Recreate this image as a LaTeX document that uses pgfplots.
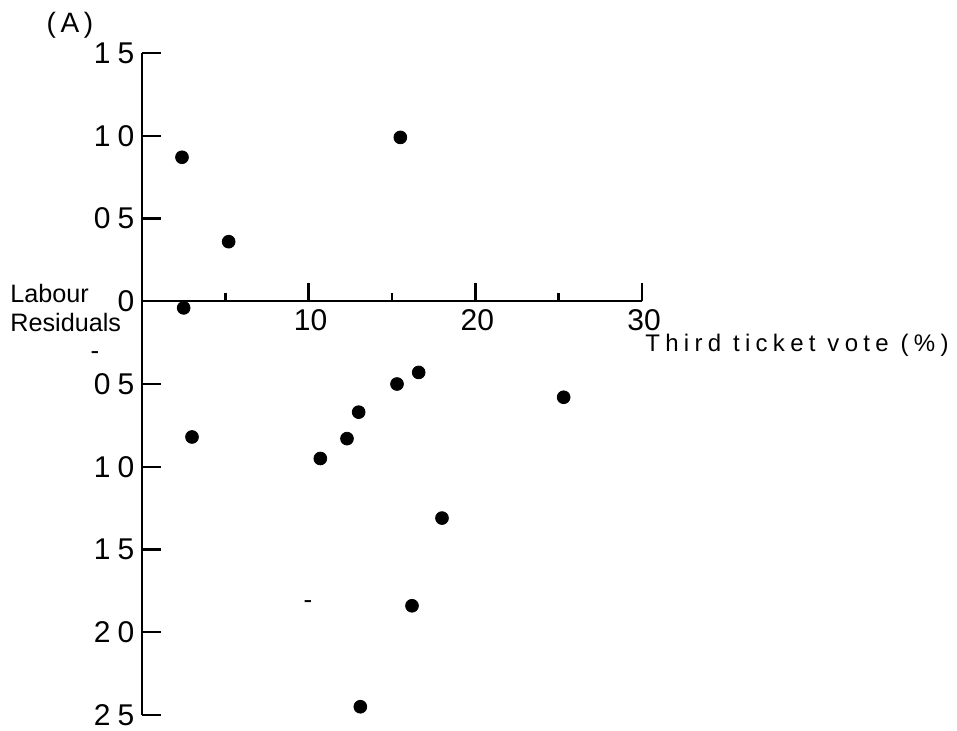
\documentclass[border=0pt]{standalone}
\usepackage{fontspec}
\setmainfont{Liberation Sans}
\usepackage{pgfplots}
\pgfplotsset{compat=1.18}
\begin{document}
\begin{tikzpicture}
\useasboundingbox (-71pt,-7.5pt) rectangle (407.5pt,357.5pt);
\begin{axis}[
  at={(0,0)}, anchor=south west, scale only axis,
  width=250pt, height=331pt,
  xmin=0, xmax=30, ymin=-2.5, ymax=1.5,
  axis x line=middle, axis y line=left,
  axis line style={-, line width=1.2pt},
  xtick={10,20,30}, xticklabels={10,20,30},
  ytick={1.5,1,0.5,0,-0.5,-1,-1.5,-2,-2.5},
  yticklabels={1\hspace{3.5pt}5,1\hspace{3.5pt}0,0\hspace{3.5pt}5,0,0\hspace{3.5pt}5,1\hspace{3.5pt}0,1\hspace{3.5pt}5,2\hspace{3.5pt}0,2\hspace{3.5pt}5},
  tick style={draw=none},
  xticklabel style={font=\fontsize{15}{15}\selectfont, anchor=north, inner sep=2pt, xshift=1pt},
  yticklabel style={font=\fontsize{15}{15}\selectfont, anchor=east, inner sep=1.5pt},
  clip=false,
]
\addplot[only marks, mark=*, mark size=3.2pt, black] coordinates {
  (2.4,0.87) (15.5,0.99) (5.2,0.36) (2.5,-0.04) (3.0,-0.82)
  (10.7,-0.95) (12.3,-0.83) (13.0,-0.67) (15.3,-0.50) (16.6,-0.43)
  (25.3,-0.58) (18.0,-1.31) (16.2,-1.84) (13.1,-2.45)
};
\coordinate (ya) at (axis cs:0,1.5);
\coordinate (yb) at (axis cs:0,1);
\coordinate (yc) at (axis cs:0,0.5);
\coordinate (yd) at (axis cs:0,-0.5);
\coordinate (ye) at (axis cs:0,-1);
\coordinate (yf) at (axis cs:0,-1.5);
\coordinate (yg) at (axis cs:0,-2);
\coordinate (yh) at (axis cs:0,-2.5);
\coordinate (xa) at (axis cs:10,0);
\coordinate (xb) at (axis cs:20,0);
\coordinate (xc) at (axis cs:30,0);
\coordinate (xd) at (axis cs:5,0);
\coordinate (xe) at (axis cs:15,0);
\coordinate (xf) at (axis cs:25,0);
\end{axis}
% y ticks (inside, to the right)
\draw[line width=1.2pt] (ya) -- ++(9.5pt,0);
\draw[line width=1.2pt] (yb) -- ++(9.5pt,0);
\draw[line width=1.2pt] (yc) -- ++(9.5pt,0);
\draw[line width=1.2pt] (yd) -- ++(9.5pt,0);
\draw[line width=1.2pt] (ye) -- ++(9.5pt,0);
\draw[line width=1.2pt] (yf) -- ++(9.5pt,0);
\draw[line width=1.2pt] (yg) -- ++(9.5pt,0);
\draw[line width=1.2pt] (yh) -- ++(9.5pt,0);
% x ticks (upward)
\draw[line width=1.2pt] (xa) -- ++(0,9pt);
\draw[line width=1.2pt] (xb) -- ++(0,9pt);
\draw[line width=1.2pt] (xc) -- ++(0,9pt);
\draw[line width=1.2pt] (xd) -- ++(0,4pt);
\draw[line width=1.2pt] (xe) -- ++(0,4pt);
\draw[line width=1.2pt] (xf) -- ++(0,4pt);
\node[font=\fontsize{14}{14}\selectfont, inner sep=0] at (-36pt,345pt) {(\,A\,)};
\node[anchor=west, align=left, inner sep=0, font=\fontsize{12.6}{14.5}\selectfont] at (-66pt,203.5pt) {Labour\\Residuals};
\node[anchor=west, inner sep=0, font=\fontsize{12}{12}\selectfont\addfontfeature{LetterSpace=22}] at (251.5pt,185pt) {Third ticket vote (\%)};
\node[inner sep=0, font=\fontsize{13}{13}\selectfont] at (-23.5pt,179.5pt) {-};
\node[inner sep=0, font=\fontsize{13}{13}\selectfont] at (83pt,55pt) {-};
\end{tikzpicture}
\end{document}
